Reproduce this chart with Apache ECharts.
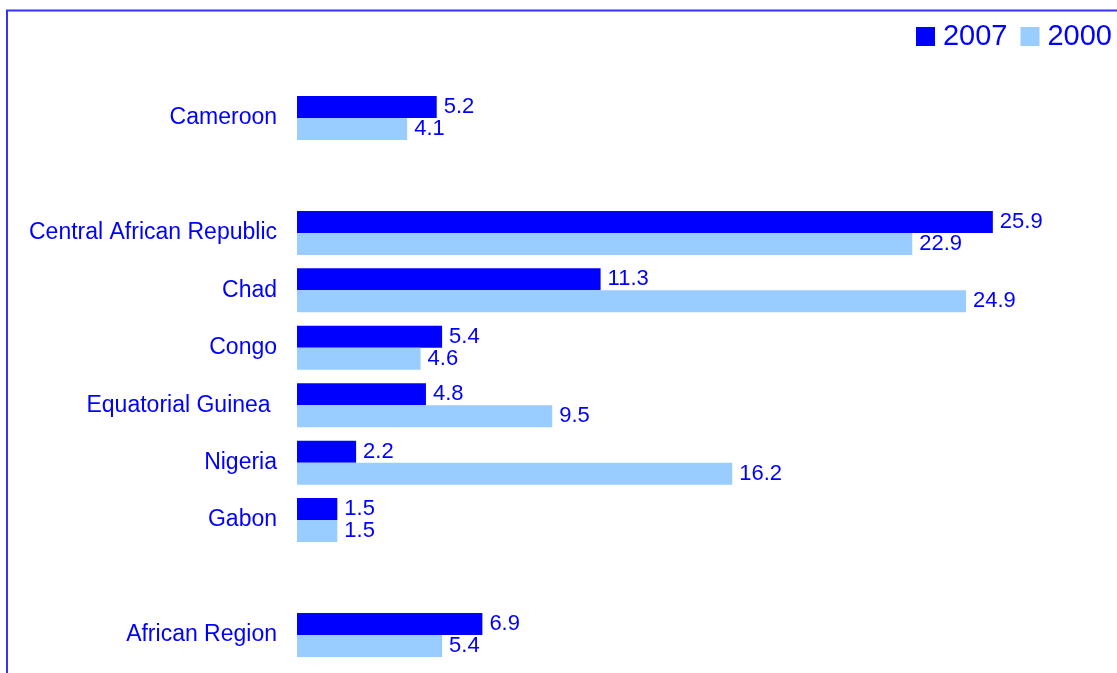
<!DOCTYPE html>
<html>
<head>
<meta charset="utf-8">
<script src="https://cdn.jsdelivr.net/npm/echarts@6/dist/echarts.min.js"></script>
<style>
html,body{margin:0;padding:0;background:#fff;}
#chart{width:1117px;height:673px;}
</style>
</head>
<body>
<div id="chart"></div>
<script>
const categories = ['Cameroon', '', 'Central African Republic', 'Chad', 'Congo', 'Equatorial Guinea ', 'Nigeria', 'Gabon', ' ', 'African Region'];
const values2007 = [5.2, '-', 25.9, 11.3, 5.4, 4.8, 2.2, 1.5, '-', 6.9];
const values2000 = [4.1, '-', 22.9, 24.9, 4.6, 9.5, 16.2, 1.5, '-', 5.4];
const seriesNames = ['2007', '2000'];

const chart = echarts.init(document.getElementById('chart'));
const txt = '#0000FF';
const font = 'Arial, "Liberation Sans", sans-serif';
const labelCfg = {
  show: true, position: 'right', distance: 7,
  color: txt, fontSize: 22, fontFamily: font,
  formatter: p => Number(p.value).toFixed(1)
};
chart.setOption({
  animation: false,
  graphic: [{
    type: 'rect', shape: {x: 7, y: 10.5, width: 1200, height: 800},
    style: {fill: 'none', stroke: '#3333FF', lineWidth: 2}, z: 100, silent: true
  }],
  legend: {
    data: seriesNames, right: 0, top: 17,
    itemWidth: 19, itemHeight: 19, itemGap: 13,
    icon: 'rect',
    textStyle: {color: txt, fontSize: 29, fontFamily: font, padding: [0,0,0,3]}
  },
  grid: {left: 297, top: 89.3, width: 806, height: 574.4},
  xAxis: {
    type: 'value', min: 0, max: 30, show: false
  },
  yAxis: {
    type: 'category', data: categories, inverse: true,
    axisLine: {show: false}, axisTick: {show: false},
    axisLabel: {color: txt, fontSize: 23, fontFamily: font, margin: 20}
  },
  series: [
    {name: seriesNames[0], type: 'bar', data: values2007, barWidth: 22, barGap: '0%',
     itemStyle: {color: '#0000FF'}, label: labelCfg},
    {name: seriesNames[1], type: 'bar', data: values2000, barWidth: 22, barGap: '0%',
     itemStyle: {color: '#99CCFF'}, label: labelCfg}
  ]
});
</script>
</body>
</html>
